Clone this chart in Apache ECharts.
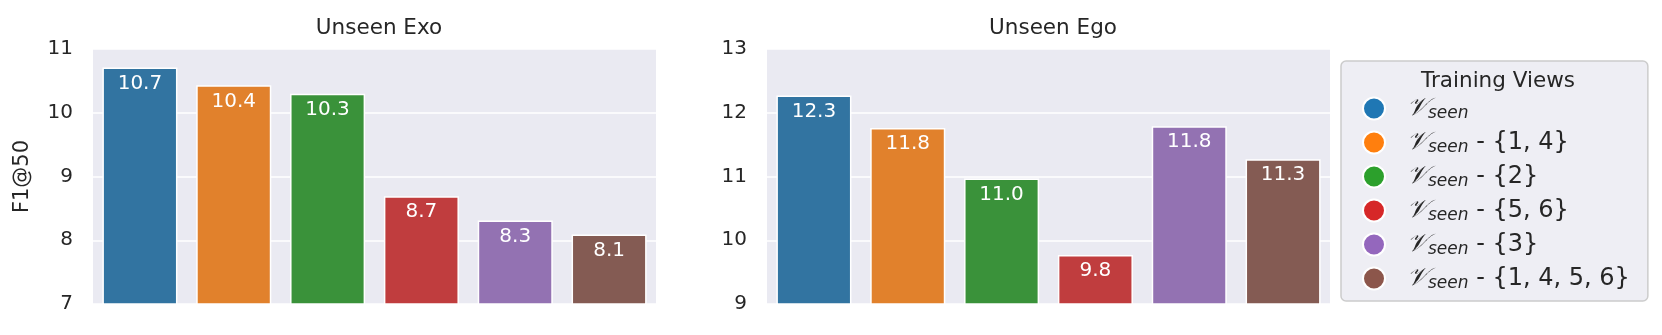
<!DOCTYPE html>
<html lang="en">
<head>
<meta charset="UTF-8">
<title>Unseen Exo / Ego</title>
<script src="https://cdn.jsdelivr.net/npm/echarts@6/dist/echarts.min.js"></script>
<style>
  html, body { margin: 0; padding: 0; background: #fff; }
  #chart { width: 1662px; height: 335px; }
</style>
</head>
<body>
<div id="chart"></div>
<script>
// training view variants (legend order = bar order)
var views = ['all', 'm14', 'm2', 'm56', 'm3', 'm1456'];
var viewSuffix = ['', ' - {1, 4}', ' - {2}', ' - {5, 6}', ' - {3}', ' - {1, 4, 5, 6}'];
var exoValues = [10.71, 10.43, 10.3, 8.69, 8.31, 8.09];
var egoValues = [12.27, 11.76, 10.97, 9.77, 11.79, 11.27];
var exoTicks = [7, 11];
var egoTicks = [9, 13];
var titles = ['Unseen Exo', 'Unseen Ego'];

// seaborn tab10 (bars are desaturated, legend markers are not)
var barColors = ['#3274a1', '#e1812c', '#3a923a', '#c03d3e', '#9372b2', '#845b53'];
var markColors = ['#1f77b4', '#ff7f0e', '#2ca02c', '#d62728', '#9467bd', '#8c564b'];

var FONT = 'DejaVu Sans';
var TXT = '#262626';

var chart = echarts.init(document.getElementById('chart'));

function yAxis(idx, ticks, withName) {
  var ax = {
    type: 'value',
    gridIndex: idx,
    min: ticks[0],
    max: ticks[1],
    interval: 1,
    axisLine: { show: false },
    axisTick: { show: false },
    axisLabel: { color: TXT, fontSize: 20, fontFamily: FONT, margin: 20 },
    splitLine: { lineStyle: { color: '#ffffff', width: 1.5 } }
  };
  if (withName) {
    ax.name = 'F1@50';
    ax.nameLocation = 'middle';
    ax.nameGap = 60;
    ax.nameTextStyle = { color: TXT, fontSize: 21, fontFamily: FONT };
  }
  return ax;
}

var series = [];
[exoValues, egoValues].forEach(function (vals, g) {
  views.forEach(function (v, i) {
    var data = views.map(function (_, j) { return j === i ? vals[i] : '-'; });
    series.push({
      name: v,
      type: 'bar',
      xAxisIndex: g,
      yAxisIndex: g,
      data: data,
      barWidth: '80%',
      barGap: '-100%',
      clip: true,
      itemStyle: { color: barColors[i], borderColor: '#ffffff', borderWidth: 1.5 },
      label: {
        show: true,
        position: 'insideTop',
        distance: 6,
        color: '#ffffff',
        fontSize: 20,
        fontFamily: FONT,
        formatter: function (p) { return p.value.toFixed(1); }
      }
    });
  });
});

var option = {
  animation: false,
  textStyle: { fontFamily: FONT },
  title: [
    { text: titles[0], left: 374, top: 12, textAlign: 'center',
      textStyle: { color: TXT, fontSize: 21.5, fontWeight: 'normal', fontFamily: FONT } },
    { text: titles[1], left: 1048, top: 12, textAlign: 'center',
      textStyle: { color: TXT, fontSize: 21.5, fontWeight: 'normal', fontFamily: FONT } },
    { text: 'Training Views', left: 1493, top: 65, textAlign: 'center',
      textStyle: { color: TXT, fontSize: 21.5, fontWeight: 'normal', fontFamily: FONT } }
  ],
  grid: [
    { left: 93, top: 49, width: 563, height: 255, show: true, backgroundColor: '#eaeaf2', borderWidth: 0 },
    { left: 767, top: 49, width: 563, height: 255, show: true, backgroundColor: '#eaeaf2', borderWidth: 0 }
  ],
  xAxis: [0, 1].map(function (g) {
    return {
      type: 'category', gridIndex: g, data: views,
      axisLine: { show: false }, axisTick: { show: false }, axisLabel: { show: false },
      splitLine: { show: false }
    };
  }),
  yAxis: [yAxis(0, exoTicks, true), yAxis(1, egoTicks, false)],
  legend: {
    orient: 'vertical',
    left: 1341,
    top: 61,
    padding: [35, 18, 9, 21],
    itemGap: 8,
    itemWidth: 22,
    itemHeight: 22,
    icon: 'circle',
    backgroundColor: '#eeeef4',
    borderColor: '#cccccc',
    borderWidth: 1.5,
    borderRadius: 5,
    data: views.map(function (v, i) {
      return { name: v, itemStyle: { color: markColors[i], borderColor: '#ffffff', borderWidth: 2 } };
    }),
    formatter: function (name) {
      var i = views.indexOf(name);
      return '{g| }{v|\uD835\uDCB1}{s|seen}' + viewSuffix[i];
    },
    textStyle: {
      color: TXT,
      fontSize: 24,
      fontFamily: FONT,
      rich: {
        g: { width: 17, fontSize: 10 },
        v: { fontSize: 25, fontFamily: 'DejaVu Serif', fontStyle: 'italic', color: TXT },
        s: { fontSize: 17, fontStyle: 'italic', fontFamily: FONT, color: TXT, padding: [10, 0, 0, 0] }
      }
    }
  },
  series: series
};

chart.setOption(option);
</script>
</body>
</html>
